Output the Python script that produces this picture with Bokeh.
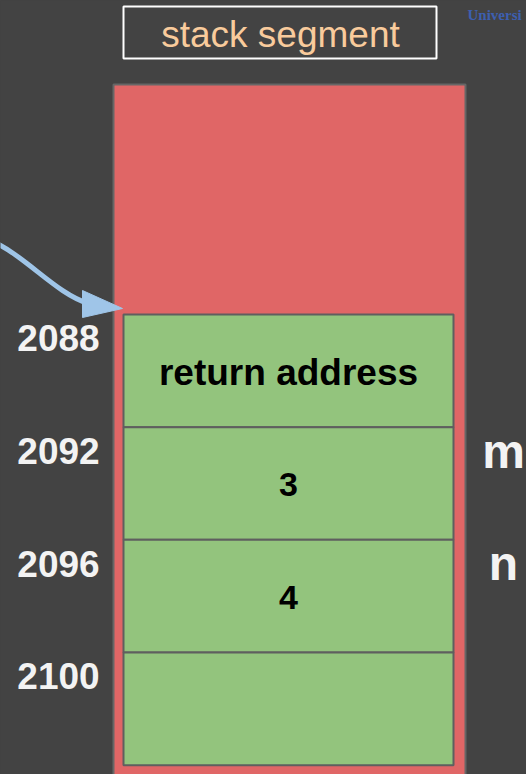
from bokeh.plotting import figure
from bokeh.models import Range1d, ColumnDataSource, GlobalInlineStyleSheet
from bokeh.embed import file_html
from bokeh.resources import INLINE
from bokeh.core.properties import value

# ---- data ----
addresses = [2088, 2092, 2096, 2100]
address_labels = ["2088", "2092", "2096", "2100"]
cell_values = ["return address", "3", "4", ""]
var_names = ["", "m", "n", ""]
word_size = 4
segment_title = "stack segment"
watermark = "Universi"

# ---- layout helpers (pixel -> address units on y) ----
PX_PER_BYTE = 28.17
TOP_PX = 314.0
def ya(px):
    return addresses[0] + (px - TOP_PX) / PX_PER_BYTE

BG = "#434343"
W, H = 526, 774

p = figure(width=W, height=H, output_backend="svg", toolbar_location=None,
           x_range=Range1d(0, W), y_range=Range1d(ya(H), ya(0)),
           min_border=0, min_border_left=0, min_border_right=0,
           min_border_top=0, min_border_bottom=0)
p.axis.visible = False
p.grid.visible = False
p.outline_line_color = None
p.background_fill_color = BG
p.border_fill_color = BG
p.stylesheets = [GlobalInlineStyleSheet(css="body{background-color:#434343;}")]

# title box
p.quad(left=123, right=436, top=ya(6), bottom=ya(58), fill_color=None,
       line_color="white", line_width=2)
p.text(x=[280], y=[ya(34)], text=[segment_title], text_color="#F9CB9C",
       text_font=value("Liberation Sans"), text_font_size="37px",
       text_align="center", text_baseline="middle")

# red stack segment
p.quad(left=113, right=465, top=ya(84), bottom=ya(800), fill_color="#E06666",
       line_color="#666666", line_width=2)

# green slots
src = ColumnDataSource(dict(
    top=addresses,
    bottom=[a + word_size for a in addresses],
    mid=[a + word_size / 2 + 0.05 for a in addresses],
    lab=[a + 0.85 for a in addresses],
    addr=address_labels, val=cell_values, name=var_names,
    fs=["37px" if len(v) > 2 else "34px" for v in cell_values]))
p.quad(left=123, right=453, top="top", bottom="bottom", source=src,
       fill_color="#93C47D", line_color="#5f5f5f", line_width=2)

p.text(x=288, y="mid", text="val", source=src, text_color="black",
       text_font=value("Liberation Sans"), text_font_style="bold",
       text_font_size="fs", text_align="center", text_baseline="middle")
p.text(x=58, y="lab", text="addr", source=src, text_color="#F3F3F3",
       text_font=value("Liberation Sans"), text_font_style="bold",
       text_font_size="37px", text_align="center", text_baseline="middle")
p.text(x=503, y="lab", text="name", source=src, text_color="#F3F3F3",
       text_font=value("Liberation Sans"), text_font_style="bold",
       text_font_size="48px", text_align="center", text_baseline="middle")

# arrow
p.bezier(x0=[-10], y0=[ya(240)], x1=[88], y1=[ya(303)],
         cx0=[25], cy0=[ya(255)], cx1=[55], cy1=[ya(293)],
         line_color="#9FC5E8", line_width=5)
p.patch(x=[82, 122, 82], y=[ya(290), ya(308), ya(317)],
        fill_color="#9FC5E8", line_color="#9FC5E8", line_width=1)

# watermark
p.text(x=[467], y=[ya(14)], text=[watermark], text_color="#3D5FB0",
       text_font=value("Liberation Serif"), text_font_style="bold",
       text_font_size="15px", text_align="left", text_baseline="middle")

open("out.html", "w").write(file_html(p, INLINE))
